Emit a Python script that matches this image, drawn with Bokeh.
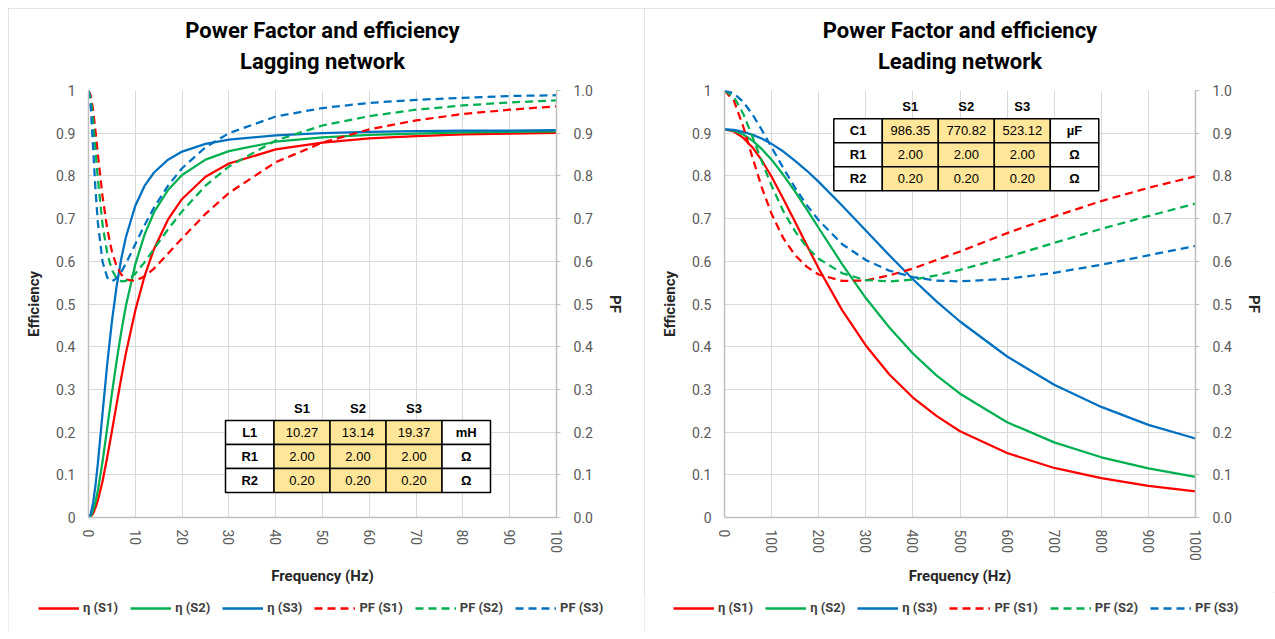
import math
from bokeh.plotting import figure
from bokeh.models import (Range1d, LinearAxis, FixedTicker, Legend, LegendItem, Title,
                          CustomJSTickFormatter, PrintfTickFormatter)
from bokeh.layouts import row, column
from bokeh.embed import file_html
from bokeh.resources import INLINE
from bokeh.core.properties import value

# ---------------- data ----------------
series = ["S1", "S2", "S3"]

# Lagging network (frequency in Hz)
lag_freq = [0, 0.5, 1, 1.5, 2, 3, 4, 5, 6, 7, 8, 10, 12, 14, 17, 20, 25, 30, 40, 50, 60, 70, 80, 90, 100]
lag_eta_s1 = [0, 0.003, 0.010, 0.023, 0.040, 0.085, 0.141, 0.202, 0.265, 0.327, 0.385, 0.485, 0.566, 0.629,
              0.698, 0.746, 0.798, 0.829, 0.862, 0.878, 0.888, 0.893, 0.897, 0.899, 0.901]
lag_eta_s2 = [0, 0.004, 0.017, 0.037, 0.063, 0.131, 0.210, 0.290, 0.366, 0.435, 0.496, 0.593, 0.663, 0.715,
              0.767, 0.802, 0.838, 0.858, 0.880, 0.890, 0.896, 0.899, 0.902, 0.903, 0.904]
lag_eta_s3 = [0, 0.009, 0.036, 0.076, 0.127, 0.244, 0.359, 0.459, 0.541, 0.606, 0.657, 0.730, 0.777, 0.808,
              0.838, 0.857, 0.875, 0.885, 0.895, 0.900, 0.903, 0.905, 0.906, 0.906, 0.907]
lag_pf_s1 = [1.0, 0.987, 0.953, 0.904, 0.851, 0.752, 0.676, 0.623, 0.589, 0.569, 0.557, 0.554, 0.565, 0.583,
             0.618, 0.654, 0.711, 0.760, 0.832, 0.878, 0.909, 0.930, 0.945, 0.955, 0.963]
lag_pf_s2 = [1.0, 0.980, 0.927, 0.860, 0.793, 0.686, 0.619, 0.580, 0.560, 0.553, 0.554, 0.571, 0.598, 0.629,
             0.675, 0.717, 0.777, 0.822, 0.883, 0.918, 0.940, 0.955, 0.965, 0.972, 0.977]
lag_pf_s3 = [1.0, 0.958, 0.863, 0.767, 0.691, 0.599, 0.562, 0.553, 0.560, 0.575, 0.595, 0.640, 0.685, 0.726,
             0.777, 0.818, 0.867, 0.900, 0.939, 0.959, 0.971, 0.978, 0.983, 0.987, 0.989]

# Leading network (frequency in Hz)
lead_freq = [0, 20, 40, 60, 80, 100, 125, 150, 175, 200, 250, 300, 350, 400, 450, 500, 600, 700, 800, 900, 1000]
lead_eta_s1 = [0.909, 0.904, 0.889, 0.866, 0.835, 0.798, 0.746, 0.692, 0.637, 0.583, 0.485, 0.403, 0.335,
               0.281, 0.238, 0.202, 0.151, 0.116, 0.092, 0.074, 0.061]
lead_eta_s2 = [0.909, 0.906, 0.897, 0.882, 0.862, 0.838, 0.802, 0.763, 0.721, 0.678, 0.593, 0.514, 0.445,
               0.384, 0.333, 0.290, 0.223, 0.176, 0.141, 0.115, 0.095]
lead_eta_s3 = [0.909, 0.908, 0.903, 0.896, 0.887, 0.875, 0.857, 0.835, 0.812, 0.786, 0.730, 0.672, 0.614,
               0.558, 0.506, 0.459, 0.377, 0.311, 0.259, 0.217, 0.185]
lead_pf_s1 = [1.0, 0.976, 0.915, 0.841, 0.770, 0.711, 0.654, 0.614, 0.587, 0.569, 0.554, 0.555, 0.567,
              0.583, 0.603, 0.623, 0.666, 0.705, 0.741, 0.772, 0.799]
lead_pf_s2 = [1.0, 0.985, 0.945, 0.890, 0.832, 0.777, 0.717, 0.670, 0.633, 0.606, 0.572, 0.556, 0.553,
              0.557, 0.567, 0.580, 0.610, 0.643, 0.676, 0.706, 0.735]
lead_pf_s3 = [1.0, 0.993, 0.973, 0.943, 0.906, 0.867, 0.818, 0.772, 0.731, 0.696, 0.640, 0.603, 0.578,
              0.563, 0.555, 0.553, 0.559, 0.573, 0.592, 0.614, 0.636]

y_ticks = [0.0, 0.1, 0.2, 0.3, 0.4, 0.5, 0.6, 0.7, 0.8, 0.9, 1.0]
lag_x_ticks = [0, 10, 20, 30, 40, 50, 60, 70, 80, 90, 100]
lead_x_ticks = [0, 100, 200, 300, 400, 500, 600, 700, 800, 900, 1000]

# parameter tables
lag_param_names = ["L1", "R1", "R2"]
lag_param_units = ["mH", "Ω", "Ω"]
lag_L1 = ["10.27", "13.14", "19.37"]
lag_R1 = ["2.00", "2.00", "2.00"]
lag_R2 = ["0.20", "0.20", "0.20"]

lead_param_names = ["C1", "R1", "R2"]
lead_param_units = ["µF", "Ω", "Ω"]
lead_C1 = ["986.35", "770.82", "523.12"]
lead_R1 = ["2.00", "2.00", "2.00"]
lead_R2 = ["0.20", "0.20", "0.20"]

# ---------------- style ----------------
COLORS = ["#FF0000", "#00B050", "#0070C0"]
GRID = "#d9d9d9"
AXIS = "#bfbfbf"
TICK_TXT = "#595959"
LABEL_TXT = "#262626"
FONT = "Roboto"
TFONT = "Liberation Sans"
H = 584          # main figure height
LEG_H = 40       # legend strip height
FH = 427         # frame height
MB_L, MB_T = 80, 82


def draw_table(p, fw, xmax, x0, y0, names, units, rows):
    colw = [48.5, 56, 56, 56, 48.5]
    rowh = 24
    edges = [x0]
    for w in colw:
        edges.append(edges[-1] + w)

    def dx(px):
        return px / fw * xmax

    def dy(py):
        return 1 - py / FH

    hx = [dx((edges[i + 1] + edges[i + 2]) / 2) for i in range(3)]
    hy = [dy(y0 - 12)] * 3
    p.text(hx, hy, text=series, text_align="center", text_baseline="middle",
           text_font=value(TFONT), text_font_size="13px", text_font_style="bold", text_color="#000000")
    lefts, rights, tops, bottoms, fills = [], [], [], [], []
    bx, by, bt, nx, ny, nt = [], [], [], [], [], []
    for r in range(3):
        top = y0 + r * rowh
        bot = top + rowh
        for c in range(5):
            lefts.append(dx(edges[c]))
            rights.append(dx(edges[c + 1]))
            tops.append(dy(top))
            bottoms.append(dy(bot))
            fills.append("#FFE699" if 1 <= c <= 3 else "#FFFFFF")
        cy = dy(top + rowh / 2)
        bx += [dx((edges[0] + edges[1]) / 2), dx((edges[4] + edges[5]) / 2)]
        by += [cy, cy]
        bt += [names[r], units[r]]
        for c in range(3):
            nx.append(dx((edges[c + 1] + edges[c + 2]) / 2))
            ny.append(cy)
            nt.append(rows[r][c])
    p.quad(left=lefts, right=rights, top=tops, bottom=bottoms, fill_color=fills,
           line_color="#000000", line_width=1.5)
    p.text(bx, by, text=bt, text_align="center", text_baseline="middle",
           text_font=value(TFONT), text_font_size="13px", text_font_style="bold", text_color="#000000")
    p.text(nx, ny, text=nt, text_align="center", text_baseline="middle",
           text_font=value(TFONT), text_font_size="13px", text_color="#000000")


def style_axis_text(ax, label):
    ax.major_label_text_font = FONT
    ax.major_label_text_font_size = "14px"
    ax.major_label_text_color = TICK_TXT
    ax.axis_label = label
    ax.axis_label_text_font = FONT
    ax.axis_label_text_font_style = "bold"
    ax.axis_label_text_font_size = "15px"
    ax.axis_label_text_color = LABEL_TXT
    ax.axis_line_color = AXIS
    ax.axis_line_width = 1.5
    ax.minor_tick_line_color = None


def make_fig(subtitle, freq, etas, pfs, xmax, xticks, fw, width, names, units, rows,
             tx0, ty0, xl_standoff):
    p = figure(width=width, height=H, x_range=Range1d(0, xmax), y_range=Range1d(0, 1),
               output_backend="svg", toolbar_location=None, title=None,
               min_border_left=MB_L, min_border_right=width - MB_L - fw,
               min_border_top=MB_T, min_border_bottom=H - MB_T - FH,
               outline_line_color=None, background_fill_color="white",
               border_fill_color="white")
    p.extra_y_ranges = {"pf": Range1d(0, 1)}

    p.xgrid.ticker = FixedTicker(ticks=xticks)
    p.ygrid.ticker = FixedTicker(ticks=y_ticks)
    p.xgrid.grid_line_color = GRID
    p.ygrid.grid_line_color = GRID

    xa = p.xaxis[0]
    xa.ticker = FixedTicker(ticks=xticks)
    xa.major_label_orientation = -math.pi / 2
    style_axis_text(xa, "Frequency (Hz)")
    xa.major_tick_line_color = None
    xa.major_label_standoff = 6
    xa.axis_label_standoff = xl_standoff

    ya = p.yaxis[0]
    ya.ticker = FixedTicker(ticks=y_ticks)
    ya.formatter = CustomJSTickFormatter(
        code="return (tick === 0 || tick === 1) ? tick.toFixed(0) : tick.toFixed(1);")
    style_axis_text(ya, "Efficiency")
    ya.major_tick_line_color = None
    ya.major_label_standoff = 7
    ya.axis_label_standoff = 10

    ra = LinearAxis(y_range_name="pf", ticker=FixedTicker(ticks=y_ticks),
                    formatter=PrintfTickFormatter(format="%.1f"))
    style_axis_text(ra, "PF")
    ra.major_tick_line_color = AXIS
    ra.major_tick_in = 0
    ra.major_tick_out = 4
    ra.major_label_standoff = 13
    ra.axis_label_standoff = 10
    p.add_layout(ra, "right")

    for i in range(3):
        p.line(freq, etas[i], line_color=COLORS[i], line_width=2.25)
    for i in range(3):
        p.line(freq, pfs[i], line_color=COLORS[i], line_width=2.25,
               line_dash="8 5", y_range_name="pf")

    draw_table(p, fw, xmax, tx0, ty0, names, units, rows)

    p.add_layout(Title(text=subtitle, align="center", text_font=FONT, text_font_size="22px",
                       text_font_style="bold", text_color="#000000", standoff=33, offset=4), "above")
    p.add_layout(Title(text="Power Factor and efficiency", align="center", text_font=FONT,
                       text_font_size="22px", text_font_style="bold", text_color="#000000",
                       standoff=-24, offset=4), "above")
    return p


def make_legend(width, x_off):
    lp = figure(width=width, height=LEG_H, x_range=Range1d(0, 1), y_range=Range1d(0, 1),
                output_backend="svg", toolbar_location=None, title=None,
                x_axis_type=None, y_axis_type=None, min_border=0,
                min_border_left=0, min_border_right=0, min_border_top=0, min_border_bottom=0,
                outline_line_color=None, background_fill_color="white",
                border_fill_color="white")
    try:
        lp.frame_align = False
    except Exception:
        pass
    items = []
    # legend keys only: placed outside the visible range
    for i, s in enumerate(series):
        r = lp.line([-1, -1], [-1, -1], line_color=COLORS[i], line_width=2.5)
        items.append(LegendItem(label="η (" + s + ")", renderers=[r]))
    for i, s in enumerate(series):
        r = lp.line([-1, -1], [-1, -1], line_color=COLORS[i], line_width=2.5, line_dash="8 5")
        items.append(LegendItem(label="PF (" + s + ")", renderers=[r]))
    leg = Legend(items=items, orientation="horizontal", location=(x_off, 17),
                 border_line_color=None, background_fill_alpha=0,
                 glyph_width=41, glyph_height=14, label_standoff=4, spacing=12,
                 padding=0, margin=0,
                 label_text_font=FONT, label_text_font_size="13px",
                 label_text_font_style="bold", label_text_color="#404040",
                 label_height=14)
    lp.add_layout(leg, "center")
    return lp


LAG_W, LEAD_W = 636, 631
p_lag = make_fig("Lagging network", lag_freq,
                 [lag_eta_s1, lag_eta_s2, lag_eta_s3], [lag_pf_s1, lag_pf_s2, lag_pf_s3],
                 100, lag_x_ticks, 468, LAG_W,
                 lag_param_names, lag_param_units, [lag_L1, lag_R1, lag_R2],
                 137, 330, 11)
p_lead = make_fig("Leading network", lead_freq,
                  [lead_eta_s1, lead_eta_s2, lead_eta_s3], [lead_pf_s1, lead_pf_s2, lead_pf_s3],
                  1000, lead_x_ticks, 471, LEAD_W,
                  lead_param_names, lead_param_units, [lead_C1, lead_R1, lead_R2],
                  109.3, 28.3, 3)

left_panel = column(p_lag, make_legend(LAG_W, 30), spacing=0, margin=(8, 0, 0, 8),
                    styles={"outline": "1px solid #d9d9d9", "outline-offset": "-1px"})
right_panel = column(p_lead, make_legend(LEAD_W, 29), spacing=0, margin=(8, 0, 0, 0),
                     styles={"outline": "1px solid #d9d9d9", "outline-offset": "-1px"})

layout = row(left_panel, right_panel, spacing=0)
open("out.html", "w").write(file_html(layout, INLINE))
